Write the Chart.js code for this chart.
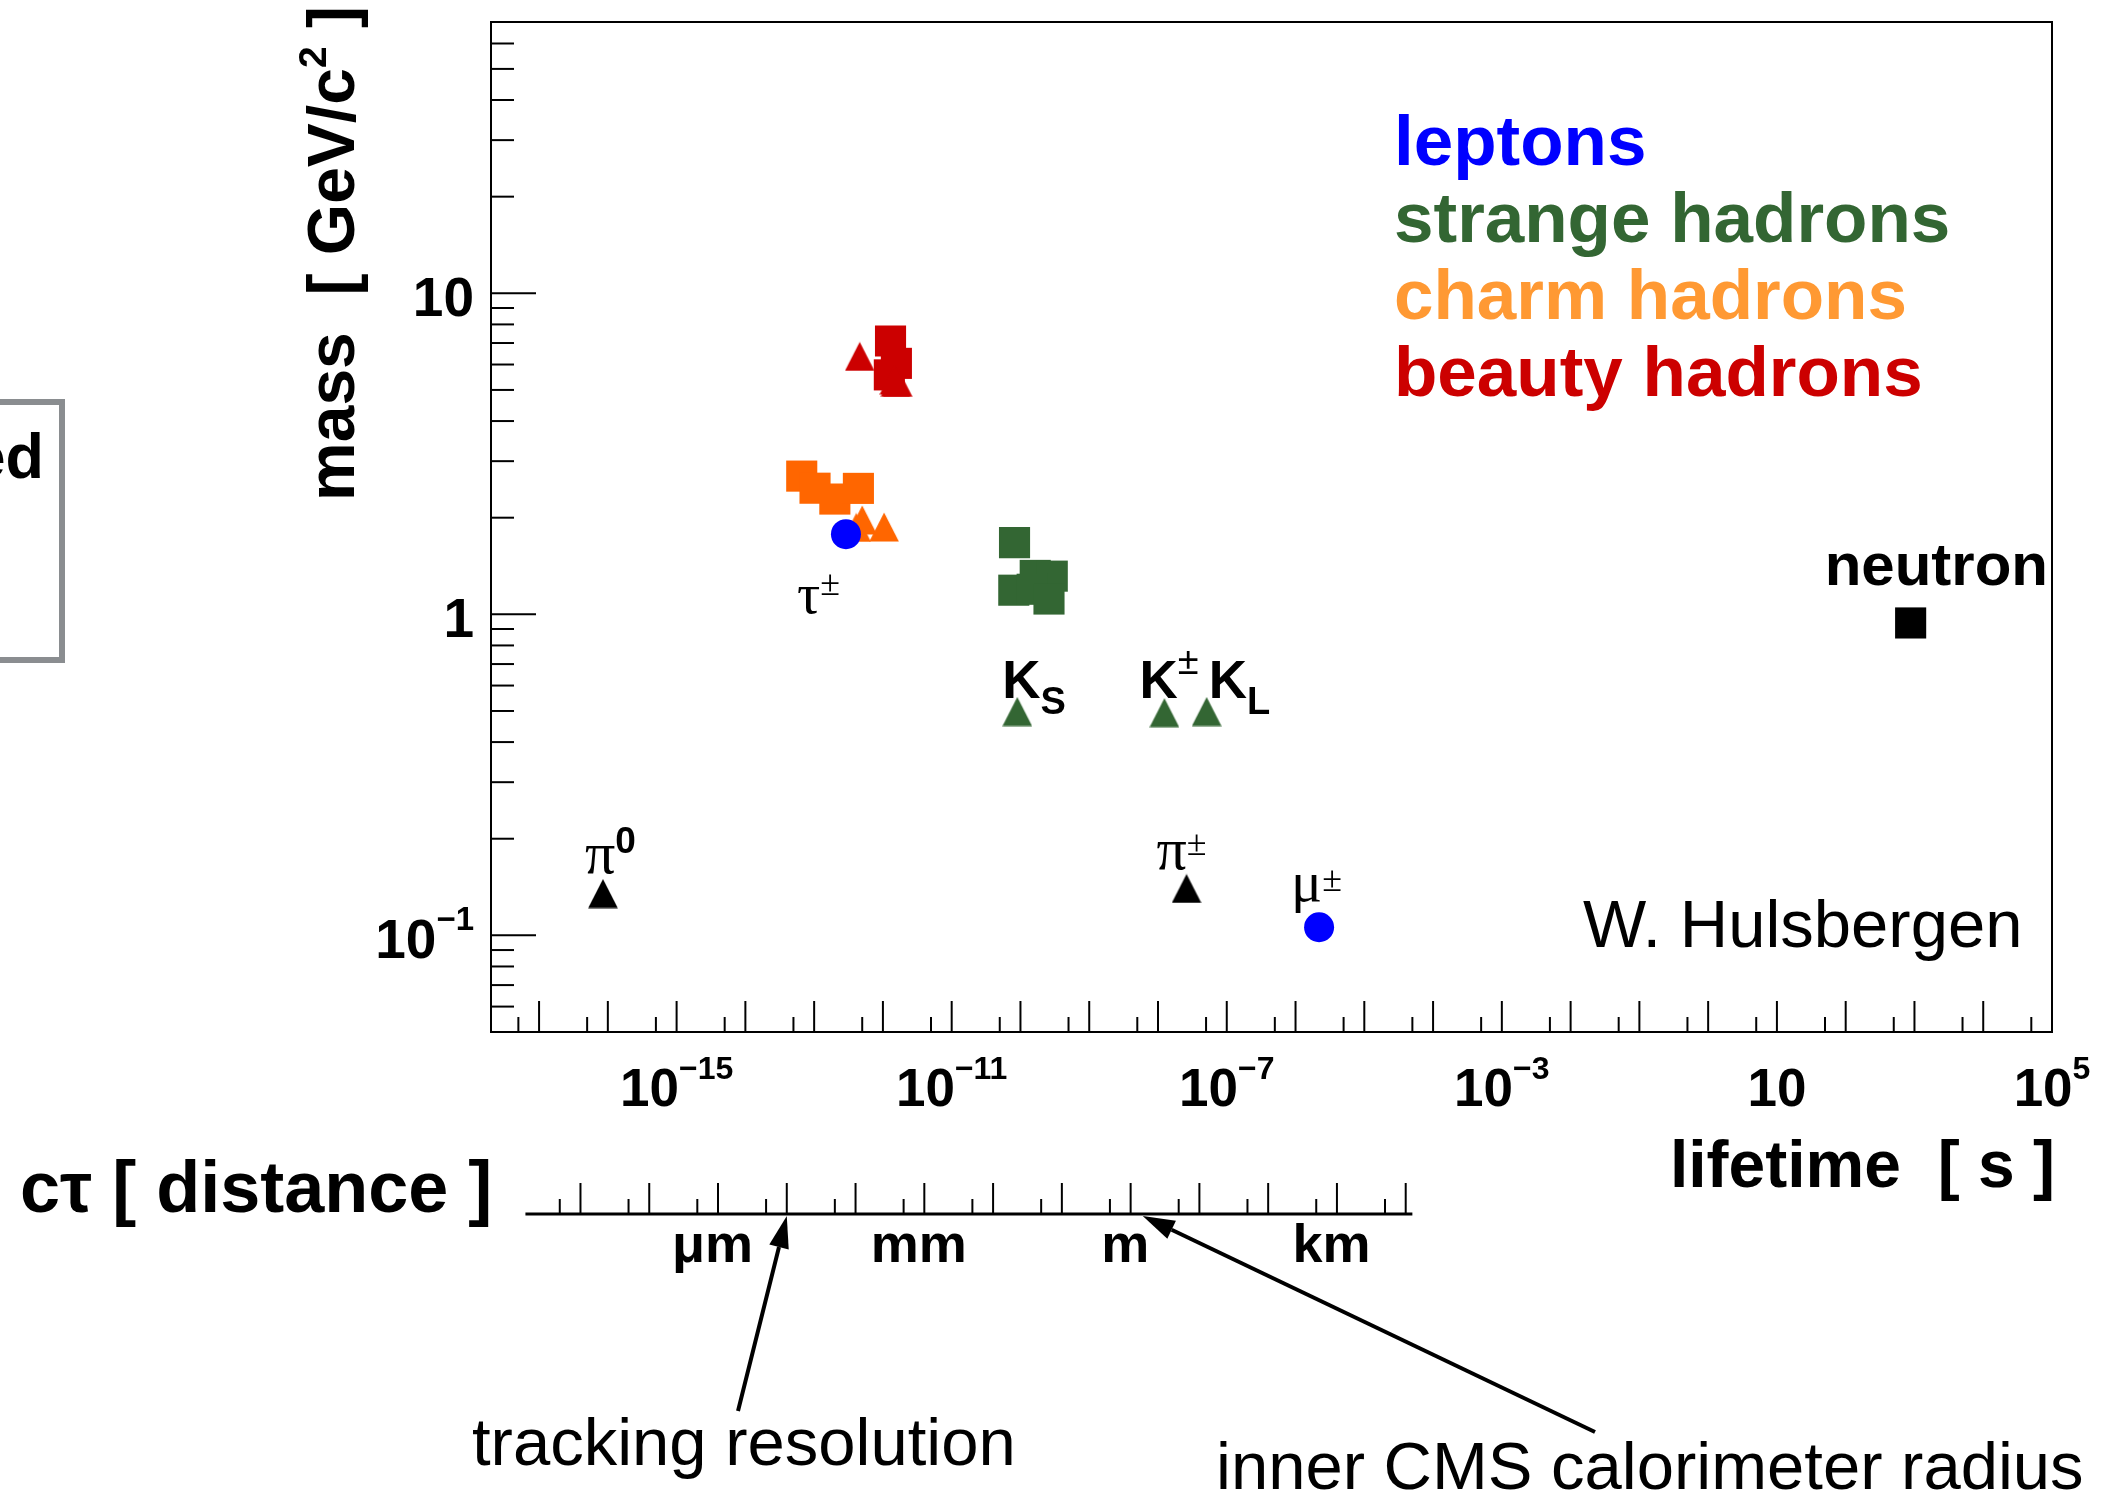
<!DOCTYPE html>
<html>
<head>
<meta charset="utf-8">
<title>Particle lifetime vs mass</title>
<script src="https://cdn.jsdelivr.net/npm/chart.js@4.4.1/dist/chart.umd.min.js"></script>
<style>
  html, body { margin: 0; padding: 0; background: #fff; }
  canvas { display: block; }
</style>
</head>
<body>
<canvas id="massChart" width="2113" height="1498"></canvas>
<script>
// --- datos: vida media [s] contra masa [GeV/c^2] ---
const leptonLifetime = [2.9e-13, 2.2e-6];                 // tau, mu
const leptonMass = [1.777, 0.106];

const lightMesonLifetime = [8.5e-17, 2.6e-8];             // pi0, pi+-
const lightMesonMass = [0.135, 0.140];
const neutronLifetime = [880];
const neutronMass = [0.94];

const strangeMesonLifetime = [9.0e-11, 1.24e-8, 5.1e-8];  // K_S, K+-, K_L
const strangeMesonMass = [0.498, 0.494, 0.498];
const strangeBaryonLifetime = [8.2e-11, 1.64e-10, 2.9e-10, 8.0e-11, 1.48e-10, 2.6e-10];
const strangeBaryonMass = [1.672, 1.322, 1.315, 1.189, 1.197, 1.116];

const charmMesonLifetime = [4.1e-13, 5.0e-13, 1.04e-12];
const charmMesonMass = [1.865, 1.968, 1.870];
const charmBaryonLifetime = [6.6e-14, 1.03e-13, 2.0e-13, 4.4e-13];
const charmBaryonMass = [2.695, 2.471, 2.286, 2.468];

const beautyMesonLifetime = [4.6e-13, 1.52e-12, 1.64e-12, 1.47e-12];
const beautyMesonMass = [6.36, 5.28, 5.28, 5.37];
const beautyBaryonLifetime = [1.29e-12, 1.57e-12, 1.24e-12];
const beautyBaryonMass = [7.1, 6.05, 5.57];

// ejes
const xLabelValues = [1e-15, 1e-11, 1e-7, 1e-3, 10, 1e5];
const xLabelExp = ['\u221215', '\u221211', '\u22127', '\u22123', '', '5'];
const yLabelValues = [0.1, 1, 10];
const yLabelBase = ['10', '1', '10'];
const yLabelExp = ['\u22121', '', ''];

// eje c*tau [m]
const C_LIGHT = 3e8;
const ctauRange = [1.9e-9, 1.5e4];
const ctauMajor = [1.2e-8, 1.2e-7, 1.2e-6, 1.2e-5, 1.2e-4, 1.2e-3, 1.2e-2, 0.12, 1.2, 12, 120, 1200, 12000];
const ctauMinor = [6e-9, 6e-8, 6e-7, 6e-6, 6e-5, 6e-4, 6e-3, 0.06, 0.6, 6, 60, 600, 6000];
const ctauLabelValues = [1e-6, 1e-3, 1, 1e3];
const ctauLabels = ['\u03bcm', 'mm', 'm', 'km'];

const legendNames = ['leptons', 'strange hadrons', 'charm hadrons', 'beauty hadrons'];
const legendColors = ['#0000ff', '#336633', '#ff9933', '#cc0000'];

const SANS = '"Liberation Sans", Arial, Helvetica, sans-serif';
const SERIF = '"Liberation Serif", "Times New Roman", serif';
const B = s => `bold ${s}px ${SANS}`;
const R = s => `${s}px ${SANS}`;
const S = s => `${s}px ${SERIF}`;

// marcador triangulo tipo ROOT (base = altura)
function triangleMarker(color) {
    const c = document.createElement('canvas');
    c.width = 30; c.height = 30;
    const g = c.getContext('2d');
    g.fillStyle = color;
    g.beginPath();
    g.moveTo(15, 0.5); g.lineTo(29.8, 29.5); g.lineTo(0.2, 29.5);
    g.closePath();
    g.fill();
    return c;
}

function pts(t, m) { return t.map((v, i) => ({ x: v, y: m[i] })); }

function set(label, t, m, color, style) {
    const base = { label, data: pts(t, m), pointBackgroundColor: color, pointBorderWidth: 0, showLine: false };
    if (style === 'circle') return { ...base, pointStyle: 'circle', pointRadius: 15, pointHoverRadius: 15 };
    if (style === 'rect') return { ...base, pointStyle: 'rect', pointRadius: 22, pointHoverRadius: 22 };
    return { ...base, pointStyle: triangleMarker(color), pointRadius: 15, pointHoverRadius: 15 };
}

// el primer dataset se pinta encima
const datasets = [
    set('leptons', leptonLifetime, leptonMass, '#0000ff', 'circle'),
    set('charm mesons', charmMesonLifetime, charmMesonMass, '#ff6600', 'tri'),
    set('charm baryons', charmBaryonLifetime, charmBaryonMass, '#ff6600', 'rect'),
    set('beauty mesons', beautyMesonLifetime, beautyMesonMass, '#cc0000', 'tri'),
    set('beauty baryons', beautyBaryonLifetime, beautyBaryonMass, '#cc0000', 'rect'),
    set('strange mesons', strangeMesonLifetime, strangeMesonMass, '#336633', 'tri'),
    set('strange baryons', strangeBaryonLifetime, strangeBaryonMass, '#336633', 'rect'),
    set('light mesons', lightMesonLifetime, lightMesonMass, '#000000', 'tri'),
    set('neutron', neutronLifetime, neutronMass, '#000000', 'rect')
];

// texto en trozos (para super/subindices)
function runs(ctx, parts, x, y, align) {
    let w = 0;
    parts.forEach(p => { ctx.font = p[1]; w += ctx.measureText(p[0]).width; });
    let cx = align === 'center' ? x - w / 2 : align === 'right' ? x - w : x;
    ctx.textAlign = 'left';
    ctx.textBaseline = 'alphabetic';
    parts.forEach(p => {
        ctx.font = p[1];
        ctx.fillText(p[0], cx, y + (p[2] || 0));
        cx += ctx.measureText(p[0]).width;
    });
}

function line(ctx, x0, y0, x1, y1) {
    ctx.beginPath(); ctx.moveTo(x0, y0); ctx.lineTo(x1, y1); ctx.stroke();
}

function arrow(ctx, x0, y0, x1, y1) {
    const ang = Math.atan2(y1 - y0, x1 - x0);
    const len = 32, half = 10;
    const bx = x1 - len * Math.cos(ang), by = y1 - len * Math.sin(ang);
    line(ctx, x0, y0, bx, by);
    ctx.beginPath();
    ctx.moveTo(x1, y1);
    ctx.lineTo(bx + half * Math.sin(ang), by - half * Math.cos(ang));
    ctx.lineTo(bx - half * Math.sin(ang), by + half * Math.cos(ang));
    ctx.closePath();
    ctx.fill();
}

// ejes, textos y anotaciones al estilo ROOT
const rootStyle = {
    id: 'rootStyle',
    afterDraw(chart) {
        const { ctx, chartArea: a } = chart;
        const xs = chart.scales.x, ys = chart.scales.y;
        const P = (t, m) => [xs.getPixelForValue(t), ys.getPixelForValue(m)];
        ctx.save();
        ctx.strokeStyle = '#000';
        ctx.fillStyle = '#000';
        ctx.lineWidth = 2;

        // marco
        ctx.strokeRect(a.left, a.top, a.right - a.left, a.bottom - a.top);

        // ticks x hacia dentro
        for (let n = -17; n <= 5; n++) {
            const xp = xs.getPixelForValue(Math.pow(10, n));
            line(ctx, xp, a.bottom, xp, a.bottom - 31);
            const xm = xs.getPixelForValue(5 * Math.pow(10, n - 1));
            if (xm > a.left) line(ctx, xm, a.bottom, xm, a.bottom - 15);
        }
        // ticks y
        for (let n = -2; n <= 1; n++) {
            for (let k = 1; k <= 9; k++) {
                const v = k * Math.pow(10, n);
                if (v < ys.min || v > ys.max) continue;
                const yp = ys.getPixelForValue(v);
                line(ctx, a.left, yp, a.left + (k === 1 ? 45 : 23), yp);
            }
        }

        // etiquetas de los ejes
        xLabelValues.forEach((v, i) => {
            runs(ctx, [['10', B(53)], [xLabelExp[i], B(32), -27]], xs.getPixelForValue(v), 1106, 'center');
        });
        yLabelValues.forEach((v, i) => {
            runs(ctx, [[yLabelBase[i], B(55)], [yLabelExp[i], B(33), -28]], 474, ys.getPixelForValue(v) + 23, 'right');
        });

        // titulos
        runs(ctx, [['lifetime  [ s ]', B(66)]], 2055, 1187, 'right');
        ctx.save();
        ctx.translate(354, 501);
        ctx.rotate(-Math.PI / 2);
        runs(ctx, [['mass  [ GeV/c', B(66)], ['2', B(39), -28], [' ]', B(66)]], 0, 0, 'left');
        ctx.restore();

        // leyenda
        legendNames.forEach((name, i) => {
            ctx.fillStyle = legendColors[i];
            runs(ctx, [[name, B(71)]], 1394, 165 + i * 77, 'left');
        });
        ctx.fillStyle = '#000';

        // nombres de particulas
        let p = P(leptonLifetime[0], leptonMass[0]);
        runs(ctx, [['\u03c4', S(58)], ['\u00b1', S(36), -18]], p[0] - 49, p[1] + 79);
        p = P(leptonLifetime[1], leptonMass[1]);
        runs(ctx, [['\u03bc', S(58)], ['\u00b1', S(36), -10]], p[0] - 28, p[1] - 26);
        p = P(lightMesonLifetime[0], lightMesonMass[0]);
        runs(ctx, [['\u03c0', S(60)], ['0', B(37), -20]], p[0] - 18, p[1] - 21);
        p = P(lightMesonLifetime[1], lightMesonMass[1]);
        runs(ctx, [['\u03c0', S(60)], ['\u00b1', S(36), -14]], p[0] - 30, p[1] - 19);
        p = P(strangeMesonLifetime[0], strangeMesonMass[0]);
        runs(ctx, [['K', B(53)], ['S', B(38), 16]], p[0] - 15, p[1] - 14);
        p = P(strangeMesonLifetime[1], strangeMesonMass[1]);
        runs(ctx, [['K', B(53)], ['\u00b1', R(38), -24]], p[0] - 25, p[1] - 15);
        p = P(strangeMesonLifetime[2], strangeMesonMass[2]);
        runs(ctx, [['K', B(53)], ['L', B(38), 16]], p[0] + 2, p[1] - 14);
        p = P(neutronLifetime[0], neutronMass[0]);
        runs(ctx, [['neutron', B(60)]], p[0] - 86, p[1] - 38);

        runs(ctx, [['W. Hulsbergen', R(67)]], 1583, 947, 'left');

        // eje c*tau
        const cx = d => xs.getPixelForValue(d / C_LIGHT);
        const yAx = 1214;
        ctx.lineWidth = 3;
        line(ctx, cx(ctauRange[0]), yAx, cx(ctauRange[1]), yAx);
        ctx.lineWidth = 2;
        ctauMajor.forEach(d => line(ctx, cx(d), yAx, cx(d), yAx - 31));
        ctauMinor.forEach(d => line(ctx, cx(d), yAx, cx(d), yAx - 15));
        ctauLabelValues.forEach((d, i) => runs(ctx, [[ctauLabels[i], B(54)]], cx(d), 1262, 'center'));
        runs(ctx, [['c\u03c4 [ distance ]', B(72)]], 20, 1212, 'left');

        // flechas
        ctx.lineWidth = 4;
        arrow(ctx, 738, 1411, cx(ctauMajor[3]), yAx + 2);
        arrow(ctx, 1595, 1432, cx(1.8), yAx + 2);
        runs(ctx, [['tracking resolution', R(67)]], 472, 1465, 'left');
        runs(ctx, [['inner CMS calorimeter radius', R(67)]], 1216, 1489, 'left');

        // recuadro cortado a la izquierda
        ctx.strokeStyle = '#8a8d90';
        ctx.lineWidth = 6;
        ctx.strokeRect(-20, 402, 82, 258);
        runs(ctx, [['ed', B(63)]], 44, 478, 'right');

        ctx.restore();
    }
};

const canvas = document.getElementById('massChart');
new Chart(canvas.getContext('2d'), {
    type: 'scatter',
    data: { datasets },
    options: {
        responsive: false,
        animation: false,
        devicePixelRatio: 1,
        events: [],
        layout: { padding: { left: 491, right: 61, top: 15, bottom: 466 } },
        plugins: { legend: { display: false }, tooltip: { enabled: false } },
        scales: {
            x: { type: 'logarithmic', min: 2e-18, max: 1e5, display: false },
            y: { type: 'logarithmic', min: 0.05, max: 70, display: false }
        }
    },
    plugins: [rootStyle]
});
</script>
</body>
</html>
